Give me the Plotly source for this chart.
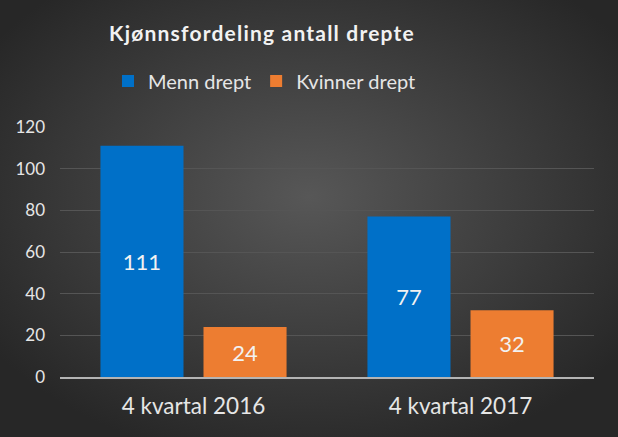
import plotly.graph_objects as go
import base64

categories = ["4 kvartal 2016", "4 kvartal 2017"]
menn_drept = [111, 77]
kvinner_drept = [24, 32]
y_ticks = [0, 20, 40, 60, 80, 100, 120]

W, H = 618, 437
L, R, T, B = 60, 24, 127, 60
pw, ph = W - L - R, H - T - B

svg = f'''<svg xmlns="http://www.w3.org/2000/svg" width="{W}" height="{H}">
<defs><radialGradient id="g" cx="50%" cy="45%" r="62%">
<stop offset="0%" stop-color="#575757"/><stop offset="100%" stop-color="#272727"/>
</radialGradient></defs><rect width="{W}" height="{H}" fill="url(#g)"/></svg>'''
bg = "data:image/svg+xml;base64," + base64.b64encode(svg.encode()).decode()

font = "Lato, Open Sans, sans-serif"
txt = "#e6e6e6"

fig = go.Figure()
fig.add_trace(go.Bar(name="Menn drept", x=categories, y=menn_drept, marker_color="#0070C8",
                     marker_line_width=0,
                     text=menn_drept, textposition="inside", insidetextanchor="middle",
                     textfont=dict(color="#f2f2f2", size=22, family=font)))
fig.add_trace(go.Bar(name="Kvinner drept", x=categories, y=kvinner_drept, marker_color="#ED7D31",
                     marker_line_width=0,
                     text=kvinner_drept, textposition="inside", insidetextanchor="middle",
                     textfont=dict(color="#f2f2f2", size=22, family=font)))

fig.update_layout(
    width=W, height=H,
    margin=dict(l=L, r=R, t=T, b=B),
    paper_bgcolor="#3a3a3a", plot_bgcolor="rgba(0,0,0,0)",
    barmode="group", bargap=0.228, bargroupgap=0.194,
    uniformtext=dict(minsize=8, mode="show"),
    title=dict(text="<b>Kjønnsfordeling antall drepte</b>", x=262 / W, xanchor="center",
               y=1 - 34 / H, yanchor="middle",
               font=dict(size=21, color="#f2f2f2", family=font)),
    legend=dict(orientation="h", x=(108 - L) / pw, xanchor="left", y=(H - B - 81) / ph, yanchor="middle",
                font=dict(size=20, color=txt, family=font), bgcolor="rgba(0,0,0,0)",
                itemwidth=30, traceorder="normal"),
    xaxis=dict(tickfont=dict(size=22.5, color=txt, family=font), showgrid=False,
               showline=True, linecolor="#b4b4b4", linewidth=2, ticks="", ticklabelstandoff=8),
    yaxis=dict(range=[0, 120], tickvals=y_ticks, tickfont=dict(size=17, color=txt, family=font),
               showgrid=True, gridcolor="#555555", gridwidth=1, zeroline=False, showline=False,
               ticks="", ticklabelstandoff=14),
    images=[dict(source=bg, xref="paper", yref="paper", x=-L / pw, y=1 + T / ph,
                 sizex=W / pw, sizey=H / ph, sizing="stretch", layer="below",
                 xanchor="left", yanchor="top")],
    showlegend=True,
)

post = """
document.body.style.margin='0';
document.body.style.background='#2b2b2b';
var t=document.querySelector('.gtitle'); if(t){t.style.letterSpacing='1.2px';}
"""
fig.write_html("out.html", post_script=post, config={"displayModeBar": False})
